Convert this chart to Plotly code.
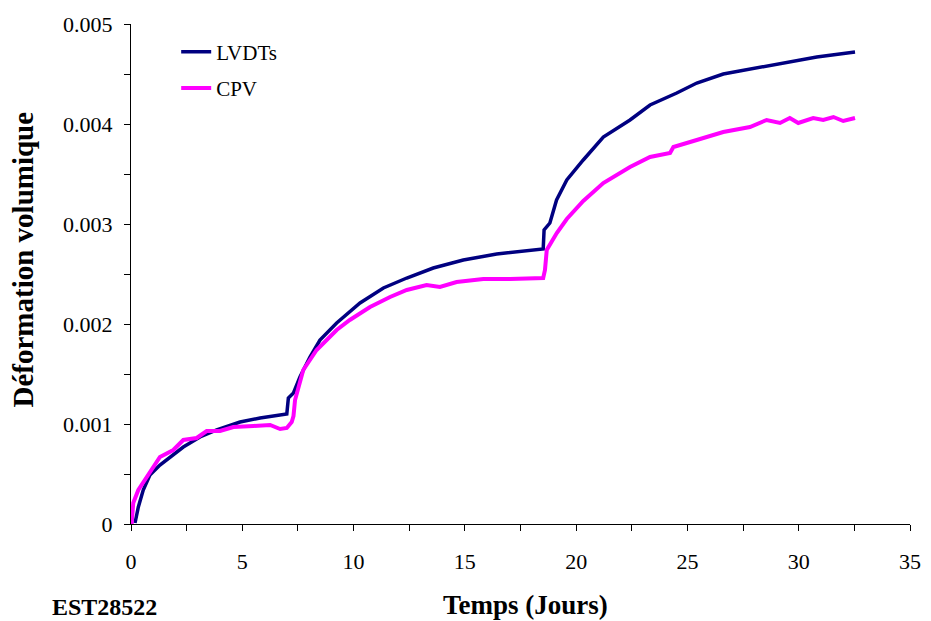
import plotly.graph_objects as go

# LVDTs (volumetric strain vs time, days)
lvdt_days = [0.18, 0.33, 0.55, 0.85, 1.30, 1.75, 2.35, 3.10, 3.85, 4.90, 5.80, 7.00,
             7.07, 7.30, 7.59, 8.04, 8.49, 9.24, 10.29, 11.34, 12.39, 13.58, 14.93,
             16.43, 18.52, 18.56, 18.82, 19.12, 19.58, 20.32, 21.22, 22.42, 23.32,
             24.52, 25.42, 26.61, 27.81, 29.31, 30.81, 32.53]
lvdt_strain = [0.00001, 0.00017, 0.00034, 0.00049, 0.00059, 0.00067, 0.00077, 0.00087,
               0.00094, 0.00102, 0.00106, 0.00110, 0.00126, 0.00131, 0.00147, 0.00167,
               0.00184, 0.00201, 0.00221, 0.00236, 0.00246, 0.00256, 0.00264, 0.00270,
               0.00275, 0.00294, 0.00301, 0.00324, 0.00344, 0.00364, 0.00387, 0.00404,
               0.00419, 0.00431, 0.00441, 0.00450, 0.00455, 0.00461, 0.00467, 0.00472]

# CPV
cpv_days = [0.03, 0.10, 0.33, 0.70, 1.30, 1.90, 2.35, 2.95, 3.40, 4.00, 4.60, 5.50,
            6.25, 6.70, 7.00, 7.22, 7.30, 7.37, 7.74, 8.34, 9.24, 9.83, 10.74, 11.64,
            12.39, 13.28, 13.88, 14.63, 15.83, 17.03, 18.52, 18.60, 18.68, 19.13,
            19.58, 20.32, 21.22, 22.42, 23.32, 24.22, 24.37, 25.42, 26.61, 27.81,
            28.56, 29.16, 29.60, 29.98, 30.65, 31.10, 31.56, 32.00, 32.53]
cpv_strain = [0.0, 0.00021, 0.00034, 0.00046, 0.00067, 0.00074, 0.00084, 0.00086,
              0.00093, 0.00093, 0.00097, 0.00098, 0.00099, 0.00095, 0.00096, 0.00102,
              0.00108, 0.00124, 0.00154, 0.00174, 0.00194, 0.00204, 0.00217, 0.00227,
              0.00234, 0.00239, 0.00237, 0.00242, 0.00245, 0.00245, 0.00246, 0.00254,
              0.00274, 0.00291, 0.00305, 0.00323, 0.00341, 0.00357, 0.00367, 0.00371,
              0.00377, 0.00384, 0.00392, 0.00397, 0.00404, 0.00401, 0.00406, 0.00401,
              0.00406, 0.00404, 0.00407, 0.00403, 0.00406]

x_ticks = [0, 5, 10, 15, 20, 25, 30, 35]
y_ticks = [0, 0.001, 0.002, 0.003, 0.004, 0.005]
y_labels = ['0', '0.001', '0.002', '0.003', '0.004', '0.005']

serif = 'Liberation Serif, Times New Roman, serif'

fig = go.Figure()
fig.add_trace(go.Scatter(x=lvdt_days, y=lvdt_strain, mode='lines', name='LVDTs',
                         legendgroup='a', line=dict(color='#000080', width=3.5)))
fig.add_trace(go.Scatter(x=cpv_days, y=cpv_strain, mode='lines', name='CPV',
                         legendgroup='b', line=dict(color='#FF00FF', width=4)))

axis_common = dict(
    showline=True, linecolor='black', linewidth=1,
    ticks='outside', ticklen=6, tickcolor='black',
    showgrid=False, zeroline=False,
    tickfont=dict(family=serif, size=22, color='black'),
)

fig.update_xaxes(range=[0, 35], tickvals=x_ticks, ticklabelstandoff=12,
                 minor=dict(dtick=2.5, ticks='outside', ticklen=6, tickcolor='black'),
                 **axis_common)
fig.update_yaxes(range=[0, 0.005], tickvals=y_ticks, ticktext=y_labels, ticklabelstandoff=7,
                 minor=dict(dtick=0.0005, ticks='outside', ticklen=6, tickcolor='black'),
                 **axis_common)

# page body has an 8px margin, so margins are shifted to land the plot where the original sits
fig.update_layout(
    width=931, height=621,
    margin=dict(l=123, r=29, t=16, b=105, autoexpand=False),
    paper_bgcolor='white', plot_bgcolor='white',
    font=dict(family=serif, color='black'),
    showlegend=True,
    legend=dict(x=0.058, y=0.985, xanchor='left', yanchor='top',
                font=dict(family=serif, size=21, color='black'),
                tracegroupgap=6, bgcolor='rgba(0,0,0,0)'),
    annotations=[
        dict(text='<b>Temps (Jours)</b>', x=0.507, y=-0.162, xref='paper', yref='paper',
             xanchor='center', yanchor='middle', showarrow=False,
             font=dict(family=serif, size=27, color='black')),
        dict(text='<b>Déformation volumique</b>', x=-0.138, y=0.53, xref='paper', yref='paper',
             xanchor='center', yanchor='middle', showarrow=False, textangle=-90,
             font=dict(family=serif, size=29, color='black')),
        dict(text='<b>EST28522</b>', x=-0.104, y=-0.166, xref='paper', yref='paper',
             xanchor='left', yanchor='middle', showarrow=False,
             font=dict(family=serif, size=24, color='black')),
    ],
)

fig.write_html("out.html")
